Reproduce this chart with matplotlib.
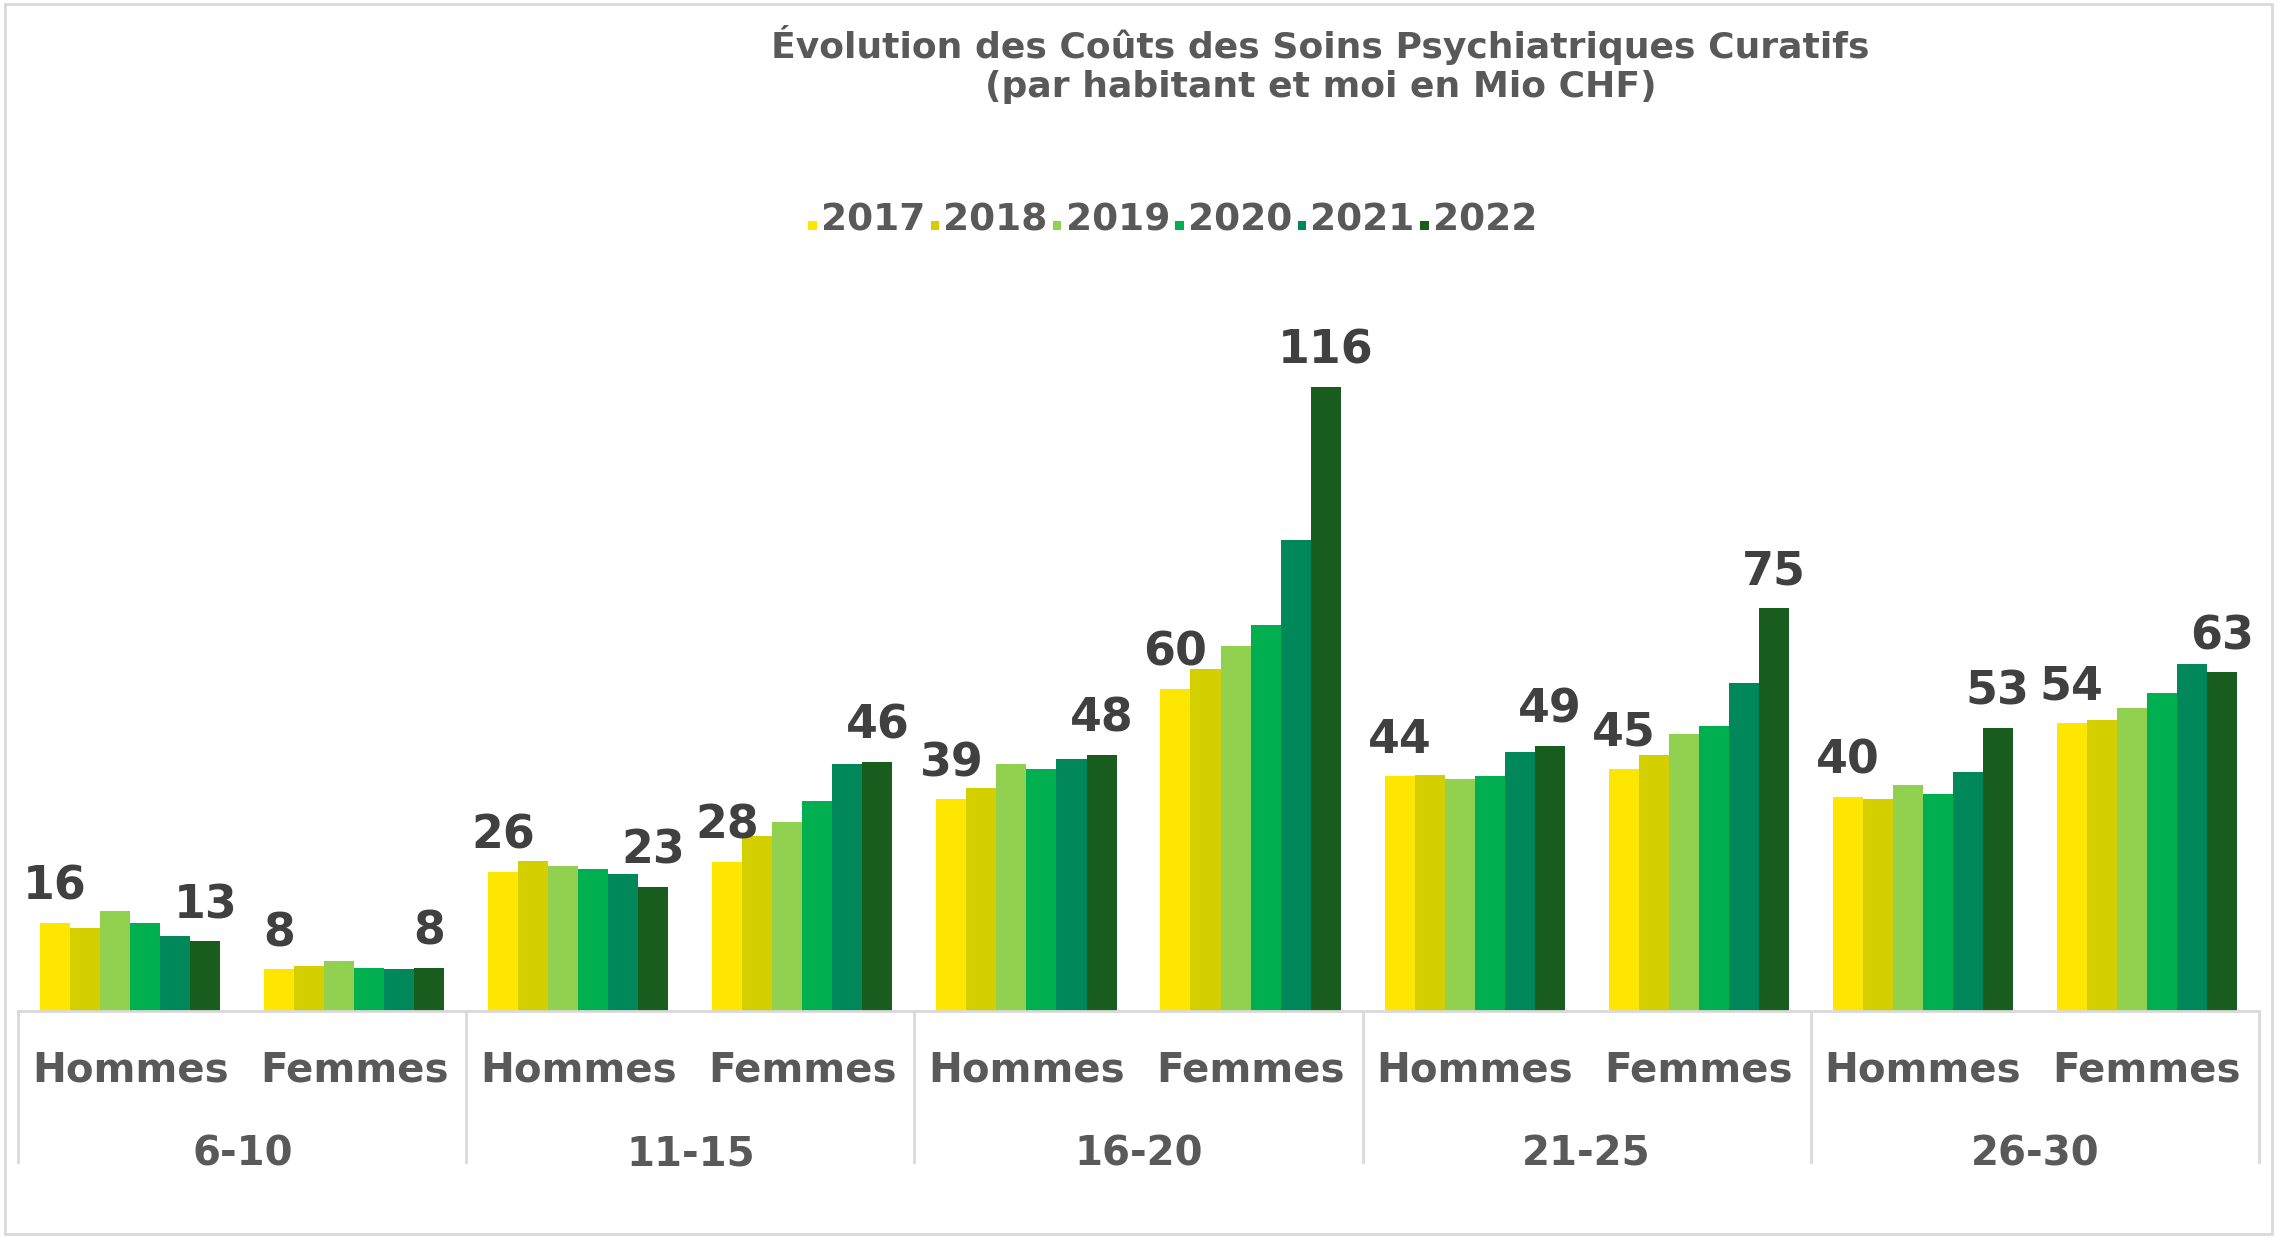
import matplotlib.pyplot as plt
import numpy as np
from matplotlib.patches import Rectangle

plt.rcParams['font.family'] = 'DejaVu Sans'

ages = ['6-10', '11-15', '16-20', '21-25', '26-30']
sexes = ['Hommes', 'Femmes']
years = ['2017', '2018', '2019', '2020', '2021', '2022']
colors = ['#FFE600', '#D4D000', '#92D050', '#00B050', '#00875A', '#185C1E']

# one list per year, order: (6-10 H, 6-10 F, 11-15 H, 11-15 F, ...)
v2017 = [16.5, 7.8, 25.9, 27.8, 39.4, 59.9, 43.7, 45.0, 39.9, 53.7]
v2018 = [15.6, 8.4, 28.0, 32.6, 41.5, 63.7, 44.0, 47.7, 39.4, 54.2]
v2019 = [18.6, 9.4, 27.0, 35.3, 45.9, 68.0, 43.2, 51.5, 42.1, 56.4]
v2020 = [16.5, 8.1, 26.4, 39.1, 45.0, 71.8, 43.7, 53.1, 40.5, 59.1]
v2021 = [14.0, 7.8, 25.6, 45.9, 46.9, 87.7, 48.3, 61.0, 44.5, 64.5]
v2022 = [13.0, 8.0, 23.2, 46.4, 47.7, 116.0, 49.4, 75.0, 52.6, 63.0]
series = [v2017, v2018, v2019, v2020, v2021, v2022]

fig = plt.figure(figsize=(22.77, 12.38), dpi=100)
fig.patches.append(Rectangle((0.002, 0.003), 0.996, 0.994, transform=fig.transFigure,
                             fill=False, edgecolor='#D9D9D9', lw=2))
ax = fig.add_axes([0.008, 0.183, 0.984, 0.565])
n = len(v2017)
x = np.arange(n)
w = 0.134
for i, (vals, c) in enumerate(zip(series, colors)):
    xs = x + (i - 2.5) * w
    ax.bar(xs, vals, width=w, color=c, label=years[i])
    if i in (0, 5):
        for xx, v in zip(xs, vals):
            ax.text(xx, v + 2.5, f'{v:.0f}', ha='center', va='bottom', fontsize=33,
                    fontweight='bold', color='#404040')

ax.set_xlim(-0.5, n - 0.5)
ax.set_ylim(0, 130)
ax.set_yticks([])
ax.set_xticks([])
for s in ['top', 'right', 'left']:
    ax.spines[s].set_visible(False)
ax.spines['bottom'].set_color('#D9D9D9')
ax.spines['bottom'].set_linewidth(2)

trans = ax.get_xaxis_transform()
for k in range(len(ages) + 1):
    ax.plot([k * 2 - 0.5] * 2, [0, -0.215], transform=trans, color='#D9D9D9',
            lw=2, clip_on=False)
for j in range(n):
    ax.text(j, -0.085, sexes[j % 2], transform=trans, ha='center', va='center',
            fontsize=29, fontweight='bold', color='#595959')
for k, a in enumerate(ages):
    ax.text(2 * k + 0.5, -0.205, a, transform=trans, ha='center', va='center',
            fontsize=29, fontweight='bold', color='#595959')

fig.text(0.58, 0.948, 'Évolution des Coûts des Soins Psychiatriques Curatifs\n(par habitant et moi en Mio CHF)',
         ha='center', va='center', fontsize=26, fontweight='bold', color='#595959',
         linespacing=1.2)
leg = fig.legend(loc='center', bbox_to_anchor=(0.515, 0.822), ncol=6, frameon=False,
                 handlelength=0.6, handleheight=0.6, handletextpad=0.3, columnspacing=0.4)
for t in leg.get_texts():
    t.set_fontsize(27)
    t.set_fontweight('bold')
    t.set_color('#595959')

plt.savefig('out.png', dpi=100)
